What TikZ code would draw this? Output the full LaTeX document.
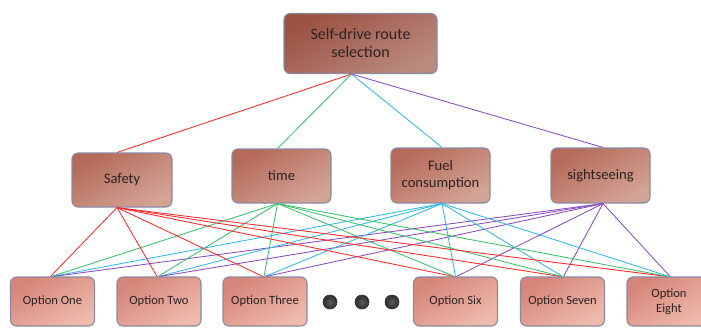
\documentclass[tikz,border=0pt]{standalone}
\usepackage{fontspec}
\setmainfont{Carlito}
\begin{document}
\begin{tikzpicture}[x=1pt,y=-1pt,
  box/.style={draw=boxborder, line width=1.1pt, rounded corners=6pt, text=textc, align=center, inner sep=1pt},
  topbox/.style={box, top color=topA, bottom color=topB, shading angle=30, minimum width=153pt, minimum height=60pt, font=\fontsize{16}{18}\selectfont},
  midbox/.style={box, top color=midA, bottom color=midB, shading angle=30, minimum width=99pt, minimum height=54pt, font=\fontsize{14.6}{17}\selectfont},
  optbox/.style={box, top color=optA, bottom color=optB, shading angle=30, minimum width=84pt, minimum height=49pt, font=\fontsize{12.6}{15}\selectfont},
  lred/.style={draw=cred, line width=0.85pt},
  lgreen/.style={draw=cgreen, line width=0.85pt},
  lcyan/.style={draw=ccyan, line width=0.85pt},
  lpurple/.style={draw=cpurple, line width=0.85pt},
  dot/.style={circle, inner sep=0pt, minimum size=14pt, inner color=dotB, outer color=dotA, draw=dotA, line width=0.6pt}
]
\definecolor{boxborder}{HTML}{8A8AA2}
\definecolor{textc}{HTML}{2E2222}
\definecolor{topA}{HTML}{9C5244}
\definecolor{topB}{HTML}{BA8A7E}
\definecolor{midA}{HTML}{B56A5A}
\definecolor{midB}{HTML}{D3A496}
\definecolor{optA}{HTML}{D5857A}
\definecolor{optB}{HTML}{EEBAAB}
\definecolor{cred}{HTML}{FF2B2B}
\definecolor{cgreen}{HTML}{3CBF6A}
\definecolor{ccyan}{HTML}{33B8EA}
\definecolor{cpurple}{HTML}{8B4CC0}
\definecolor{dotA}{HTML}{2E2E2E}
\definecolor{dotB}{HTML}{5A5A5A}

\useasboundingbox (0,0) rectangle (701,327);
\fill[white] (0,0) rectangle (701,327);

% nodes
\node[topbox] (top) at (360.5,43.5) {Self-drive route\\selection};
\node[midbox, minimum width=100pt] (saf) at (122,180) {Safety};
\node[midbox] (tim) at (281.5,176) {time};
\node[midbox, minimum height=55pt] (fuel) at (440.5,175.5) {Fuel\\consumption};
\node[midbox, minimum height=55pt] (sig) at (600.5,175.5) {sightseeing};

\node[optbox] (o1) at (52.5,301.5) {Option One};
\node[optbox] (o2) at (159,301.5) {Option Two};
\node[optbox] (o3) at (265,301.5) {Option Three};
\node[optbox] (o6) at (455.5,301.5) {Option Six};
\node[optbox] (o7) at (562.5,301.5) {Option Seven};
\node[optbox] (o8) at (669,301.5) {Option\\Eight};

\node[dot] (d1) at (330,302) {};
\node[dot] (d2) at (362,302) {};
\node[dot] (d3) at (392,302) {};

% connectors
\draw[lred]    ([xshift=-9pt]top.south) -- ([xshift=-5pt]saf.north);
\draw[lgreen]  ([xshift=-9pt]top.south) -- ([xshift=-4pt]tim.north);
\draw[lcyan]   ([xshift=-9pt]top.south) -- ([xshift=1.5pt]fuel.north);
\draw[lpurple] ([xshift=-9pt]top.south) -- ([xshift=2.5pt]sig.north);
\foreach \o in {o1,o2,o3,o6,o7,o8} {
  \draw[lred]    ([xshift=-5pt]saf.south) -- ([xshift=-2pt]\o.north);
  \draw[lgreen]  ([xshift=-4pt]tim.south) -- ([xshift=-1pt]\o.north);
  \draw[lcyan]   ([xshift=1.5pt]fuel.south) -- ([xshift=0pt]\o.north);
  \draw[lpurple] ([xshift=2.5pt]sig.south) -- ([xshift=1pt]\o.north);
}
\end{tikzpicture}
\end{document}
